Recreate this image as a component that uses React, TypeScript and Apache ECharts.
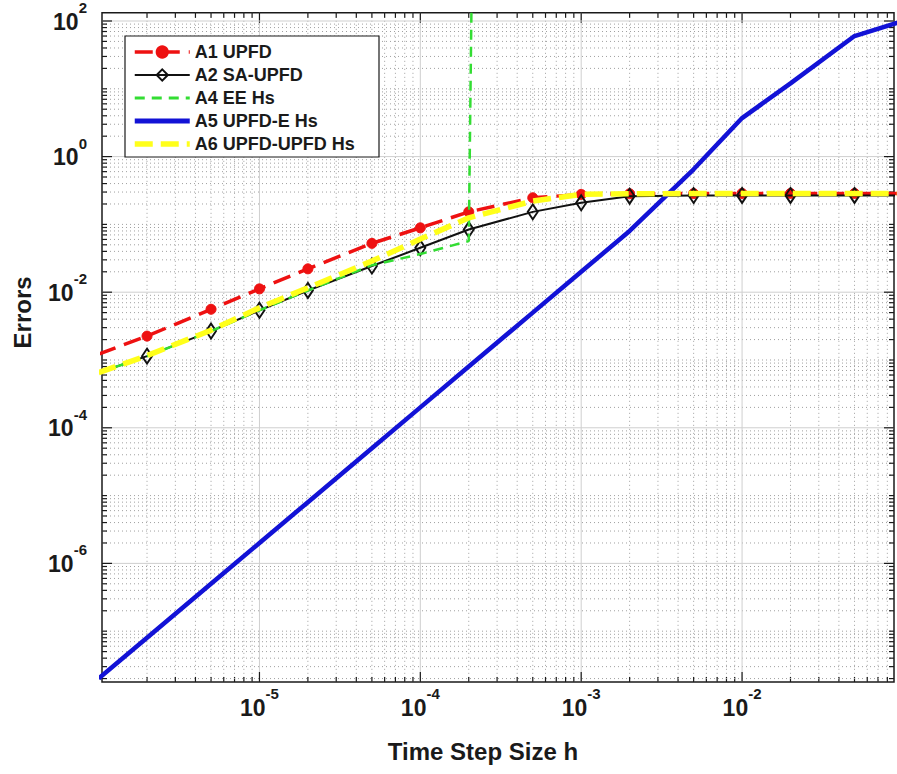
import React, { useEffect, useRef } from 'react';
import * as echarts from 'echarts';

const FONT = '"Liberation Sans", Arial, Helvetica, sans-serif';

// Time step sizes h
const stepSizes = [1e-6, 2e-6, 5e-6, 1e-5, 2e-5, 5e-5, 1e-4, 2e-4, 5e-4, 1e-3, 2e-3, 5e-3, 1e-2, 2e-2, 5e-2, 1e-1];

// Errors per scheme
const a1UPFD = [1.22e-3, 2.25e-3, 5.6e-3, 1.12e-2, 2.21e-2, 5.25e-2, 8.9e-2, 0.153, 0.247, 0.277, 0.283, 0.285, 0.286, 0.286, 0.286, 0.286];
const a2SAUPFD = [6.5e-4, 1.14e-3, 2.67e-3, 5.4e-3, 1.06e-2, 2.43e-2, 4.52e-2, 8.4e-2, 0.153, 0.208, 0.261, 0.266, 0.267, 0.267, 0.267, 0.267];
const a4EEHs = [6.5e-4, 1.14e-3, 2.67e-3, 5.4e-3, 1.06e-2, 2.5e-2, 3.65e-2, 5.67e-2, 1e80];
const a5UPFDEHs = [2e-8, 8e-8, 5e-7, 2e-6, 8e-6, 5e-5, 2e-4, 8e-4, 5e-3, 2e-2, 8e-2, 0.65, 3.7, 12, 60, 100];
const a6UPFDUPFDHs = [6.5e-4, 1.16e-3, 2.75e-3, 5.9e-3, 1.16e-2, 2.88e-2, 6.07e-2, 0.125, 0.221, 0.277, 0.283, 0.285, 0.285, 0.285, 0.285, 0.285];

const seriesNames = ['A1 UPFD', 'A2 SA-UPFD', 'A4 EE Hs', 'A5 UPFD-E Hs', 'A6 UPFD-UPFD Hs'];

// Axis ranges
const xRange = [1.05e-6, 0.088];
const yRange = [1.78e-8, 132];

// Tick positions
const xDecades = [-6, -5, -4, -3, -2];
const yDecades = [-8, -7, -6, -5, -4, -3, -2, -1, 0, 1, 2];
const minorMultipliers = [2, 3, 4, 5, 6, 7, 8, 9];
const xMajorTicks = [1e-5, 1e-4, 1e-3, 1e-2];
const yMajorTicks = [1e-6, 1e-4, 1e-2, 1, 100];

const inRange = (v: number, r: number[]) => v > r[0] * 1.0001 && v < r[1] * 0.9999;

const xMinorTicks: number[] = [];
xDecades.forEach((d) => minorMultipliers.forEach((m) => {
  const v = m * Math.pow(10, d);
  if (inRange(v, xRange)) xMinorTicks.push(v);
}));
const yMinorTicks: number[] = [];
yDecades.forEach((d) => {
  if (d % 2 !== 0 && inRange(Math.pow(10, d), yRange)) yMinorTicks.push(Math.pow(10, d));
  minorMultipliers.forEach((m) => {
    const v = m * Math.pow(10, d);
    if (inRange(v, yRange)) yMinorTicks.push(v);
  });
});

function expLabel(value: number, evenOnly: boolean) {
  const l = Math.log10(value);
  const e = Math.round(l);
  if (Math.abs(l - e) > 1e-6) return '';
  if (evenOnly && e % 2 !== 0) return '';
  return `{b|10}{s|${e}}`;
}

const richLabel = {
  b: { fontSize: 23, fontWeight: 'bold', fontFamily: FONT, color: '#1a1a1a', lineHeight: 24, verticalAlign: 'bottom' },
  s: { fontSize: 15, fontWeight: 'bold', fontFamily: FONT, color: '#1a1a1a', lineHeight: 16, padding: [0, 0, 18, 0], verticalAlign: 'bottom' },
};

function gridSeries(values: number[], orient: 'v' | 'h', major: boolean) {
  return {
    type: 'custom',
    silent: true,
    z: 1,
    data: values.map((v) => (orient === 'v' ? [v, 1] : [1e-3, v])),
    renderItem: (params: any, api: any) => {
      const cs = params.coordSys;
      const p = api.coord([api.value(0), api.value(1)]);
      const tl = major ? 10 : 5;
      const gridStyle = major
        ? { stroke: '#cfcfcf', lineWidth: 1, fill: null }
        : { stroke: '#a0a0a0', lineWidth: 1, lineDash: [1, 3], fill: null };
      const tickStyle = { stroke: '#1a1a1a', lineWidth: 1.2, fill: null };
      if (orient === 'v') {
        const x = p[0];
        const top = cs.y;
        const bottom = cs.y + cs.height;
        return {
          type: 'group',
          children: [
            { type: 'line', shape: { x1: x, y1: top, x2: x, y2: bottom }, style: gridStyle },
            { type: 'line', shape: { x1: x, y1: bottom, x2: x, y2: bottom - tl }, style: tickStyle },
            { type: 'line', shape: { x1: x, y1: top, x2: x, y2: top + tl }, style: tickStyle },
          ],
        };
      }
      const y = p[1];
      const left = cs.x;
      const right = cs.x + cs.width;
      return {
        type: 'group',
        children: [
          { type: 'line', shape: { x1: left, y1: y, x2: right, y2: y }, style: gridStyle },
          { type: 'line', shape: { x1: left, y1: y, x2: left + tl, y2: y }, style: tickStyle },
          { type: 'line', shape: { x1: right, y1: y, x2: right - tl, y2: y }, style: tickStyle },
        ],
      };
    },
  };
}

const pairs = (ys: number[]) => ys.map((y, i) => [stepSizes[i], y]);

export default function App() {
  const ref = useRef<HTMLDivElement>(null);
  useEffect(() => {
    if (!ref.current) return;
    const chart = echarts.init(ref.current, undefined, { renderer: 'svg' });
    const noSymbol = { opacity: 0 };
    chart.setOption({
      animation: false,
      backgroundColor: '#ffffff',
      grid: {
        left: 102, top: 11, right: 1, bottom: 92,
        show: true, borderColor: '#1a1a1a', borderWidth: 1.5, backgroundColor: '#ffffff',
      },
      graphic: [
        {
          type: 'rect',
          silent: true,
          z: 19,
          shape: { x: 125, y: 36, width: 254, height: 121 },
          style: { fill: '#ffffff', stroke: '#1a1a1a', lineWidth: 1.2 },
        },
      ],
      legend: {
        z: 20,
        data: [
          { name: seriesNames[0], lineStyle: { width: 3.5 } },
          { name: seriesNames[1], lineStyle: { width: 2 } },
          { name: seriesNames[2], itemStyle: noSymbol, lineStyle: { width: 3 } },
          { name: seriesNames[3], itemStyle: noSymbol, lineStyle: { width: 5 } },
          { name: seriesNames[4], itemStyle: noSymbol, lineStyle: { width: 5.5 } },
        ],
        orient: 'vertical',
        left: 125,
        top: 36,
        itemWidth: 55,
        itemHeight: 14,
        itemGap: 5,
        padding: [7, 8, 3, 7],
        textStyle: { fontSize: 18, fontWeight: 'bold', color: '#1a1a1a', fontFamily: FONT, lineHeight: 18 },
      },
      xAxis: {
        type: 'log',
        logBase: 10,
        min: xRange[0],
        max: xRange[1],
        splitNumber: 10,
        name: 'Time Step Size h',
        nameLocation: 'middle',
        nameGap: 57,
        nameTextStyle: { fontSize: 24, fontWeight: 'bold', color: '#1a1a1a', fontFamily: FONT, padding: [0, 30, 0, 0] },
        axisLine: { show: false },
        axisTick: { show: false },
        splitLine: { show: false },
        axisLabel: { margin: 13, formatter: (v: number) => expLabel(v, false), rich: richLabel },
      },
      yAxis: {
        type: 'log',
        logBase: 10,
        min: yRange[0],
        max: yRange[1],
        splitNumber: 10,
        name: 'Errors',
        nameLocation: 'middle',
        nameGap: 68,
        nameTextStyle: { fontSize: 24, fontWeight: 'bold', color: '#1a1a1a', fontFamily: FONT, padding: [0, 0, 0, 70] },
        axisLine: { show: false },
        axisTick: { show: false },
        splitLine: { show: false },
        axisLabel: { margin: 15, formatter: (v: number) => expLabel(v, true), rich: richLabel },
      },
      series: [
        gridSeries(xMinorTicks, 'v', false),
        gridSeries(yMinorTicks, 'h', false),
        gridSeries(xMajorTicks, 'v', true),
        gridSeries(yMajorTicks, 'h', true),
        {
          name: seriesNames[0], type: 'line', z: 3, data: pairs(a1UPFD),
          symbol: 'circle', symbolSize: 10, showSymbol: true,
          lineStyle: { color: '#ee1111', width: 3.5, type: [18, 9] },
          itemStyle: { color: '#ee1111', borderColor: '#ee1111', borderWidth: 1 },
        },
        {
          name: seriesNames[1], type: 'line', z: 4, data: pairs(a2SAUPFD),
          symbol: 'diamond', symbolSize: [10, 15], showSymbol: true,
          lineStyle: { color: '#111111', width: 2, type: 'solid' },
          itemStyle: { color: 'rgba(255,255,255,0)', borderColor: '#111111', borderWidth: 2 },
        },
        {
          name: seriesNames[2], type: 'line', z: 5, data: pairs(a4EEHs),
          symbol: 'none',
          lineStyle: { color: '#33dd33', width: 2.5, type: [10, 7] },
          itemStyle: { color: '#33dd33' },
        },
        {
          name: seriesNames[3], type: 'line', z: 6, data: pairs(a5UPFDEHs),
          symbol: 'none',
          lineStyle: { color: '#1212d6', width: 4.5, type: 'solid' },
          itemStyle: { color: '#1212d6' },
        },
        {
          name: seriesNames[4], type: 'line', z: 7, data: pairs(a6UPFDUPFDHs),
          symbol: 'none',
          lineStyle: { color: '#ffff1a', width: 5.5, type: [18, 8] },
          itemStyle: { color: '#ffff1a' },
        },
      ],
    });
    return () => chart.dispose();
  }, []);
  return (
    <div
      ref={ref}
      style={{ position: 'fixed', left: 0, top: 0, width: 897, height: 774, background: '#fff' }}
    />
  );
}
